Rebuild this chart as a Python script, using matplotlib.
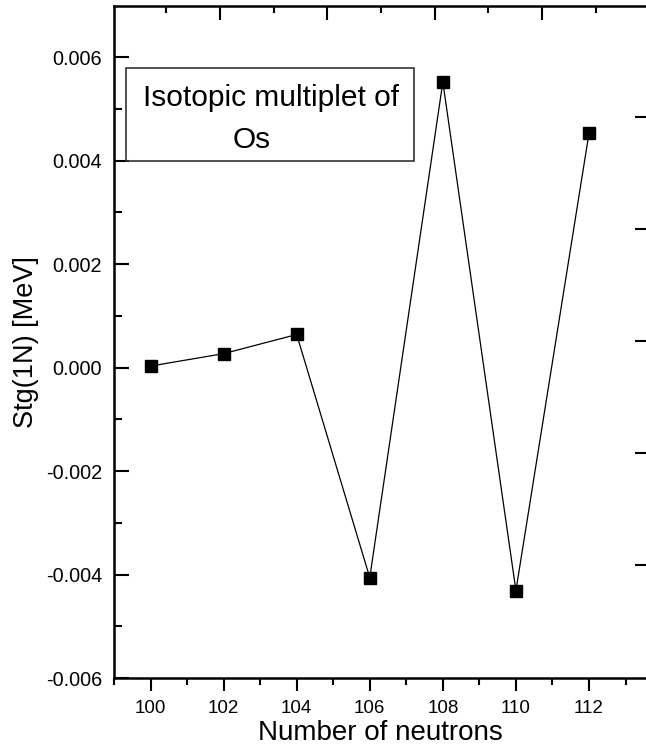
import matplotlib
matplotlib.use("Agg")
import matplotlib.pyplot as plt
from matplotlib.ticker import MultipleLocator, FixedLocator
from matplotlib.patches import Rectangle

plt.rcParams['font.family'] = ['Liberation Sans', 'DejaVu Sans']

neutrons = [100, 102, 104, 106, 108, 110, 112]
stg = [0.00003, 0.00027, 0.00064, -0.00406, 0.00552, -0.00431, 0.00453]

xticks = [100, 102, 104, 106, 108, 110, 112]
yticks = [-0.006, -0.004, -0.002, 0.000, 0.002, 0.004, 0.006]
ytick_labels = ["-0.006", "-0.004", "-0.002", "0.000", "0.002", "0.004", "0.006"]

W, H = 646, 749
fig = plt.figure(figsize=(W / 100, H / 100), dpi=100)
ax = fig.add_axes([114 / W, (H - 678) / H, (W - 114) / W, 672 / H])

ax.plot(neutrons, stg, color='black', lw=0.9, marker='s', ms=8.5,
        mfc='black', mec='black', zorder=3)

ax.set_xlim(99, 113.56)
ax.set_ylim(-0.006, 0.00699)
ax.set_xticks(xticks)
ax.xaxis.set_minor_locator(MultipleLocator(1))
ax.set_yticks(yticks)
ax.set_yticklabels(ytick_labels)
ax.yaxis.set_minor_locator(MultipleLocator(0.001))

ax.tick_params(axis='x', which='major', direction='out', length=9, width=1.5,
               labelsize=13.5, pad=7, top=False)
ax.tick_params(axis='x', which='minor', direction='out', length=5, width=1.5, top=False)
ax.tick_params(axis='y', which='major', direction='in', length=11, width=1.5,
               labelsize=14.3, pad=8.5, right=False)
ax.tick_params(axis='y', which='minor', direction='in', length=6, width=1.5, right=False)

for s in ['left', 'bottom', 'top']:
    ax.spines[s].set_linewidth(1.8)
ax.spines['right'].set_visible(False)

ax.set_xlabel("Number of neutrons", fontsize=20, labelpad=2)
ax.set_ylabel("Stg(1N) [MeV]", fontsize=19.5, labelpad=5)

# inset text box
ax.add_patch(Rectangle((99.33, 0.004), 107.22 - 99.33, 0.00579 - 0.004,
                       fill=False, ec='#333333', lw=1.2, zorder=4))
ax.text(103.29, 0.00522, "Isotopic multiplet of", fontsize=21.5,
        ha='center', va='center', zorder=5)
ax.text(102.78, 0.00440, "Os", fontsize=21.5, ha='center', va='center', zorder=5)

# right-side ticks (from the original frame)
axr = ax.twinx()
axr.set_ylim(-0.01, 5.99)
axr.yaxis.set_major_locator(FixedLocator([1, 2, 3, 4, 5]))
axr.tick_params(axis='y', direction='in', length=8, width=1.5, labelright=False)
for s in axr.spines.values():
    s.set_visible(False)

# top ticks
axt = ax.twiny()
axt.set_xlim(0.012, 4.97)
axt.xaxis.set_major_locator(FixedLocator([1, 2, 3, 4]))
axt.xaxis.set_minor_locator(FixedLocator([0.5, 1.5, 2.5, 3.5, 4.5]))
axt.tick_params(axis='x', which='major', direction='in', length=10, width=1.5, labeltop=False)
axt.tick_params(axis='x', which='minor', direction='in', length=5, width=1.5)
for s in axt.spines.values():
    s.set_visible(False)

fig.savefig("out.png", dpi=100)
